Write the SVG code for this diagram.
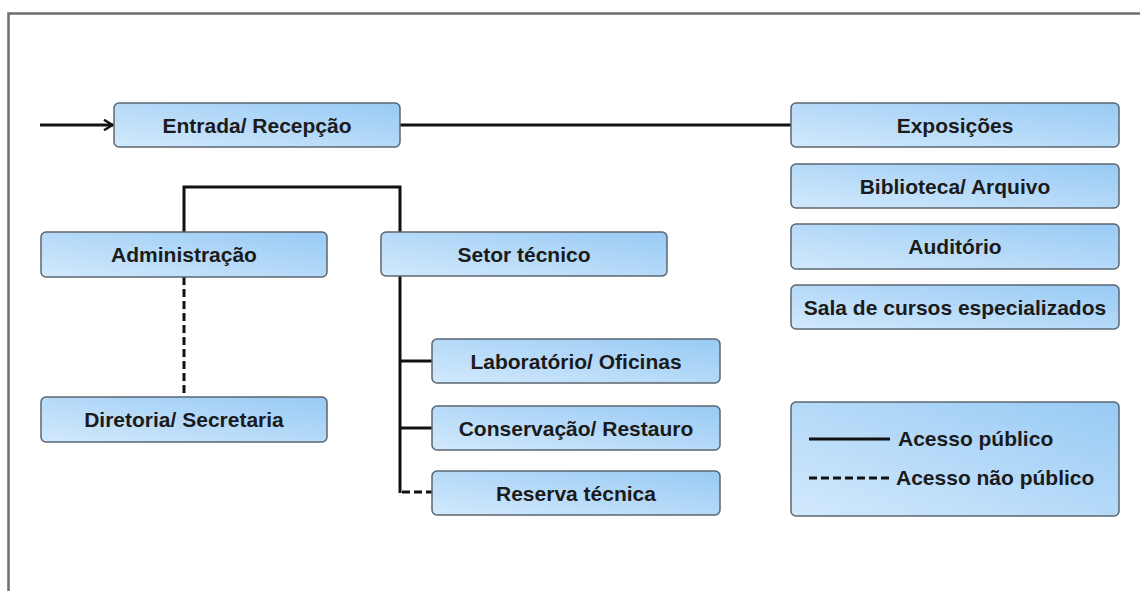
<svg xmlns="http://www.w3.org/2000/svg" width="1140" height="591" viewBox="0 0 1140 591">
  <defs>
    <linearGradient id="g" x1="0" y1="1" x2="1" y2="0">
      <stop offset="0" stop-color="#d2e9fc"/>
      <stop offset="1" stop-color="#98caf4"/>
    </linearGradient>
    <marker id="arr" viewBox="0 0 12 12" refX="11" refY="6" markerWidth="12" markerHeight="12" markerUnits="userSpaceOnUse" orient="auto">
      <path d="M2,0.8 L10.5,6 L2,11.2" fill="none" stroke="#111" stroke-width="2.4"/>
    </marker>
  </defs>
  <style>
    .box { fill: url(#g); stroke: #5b6570; stroke-width: 1.5; }
    .lbl { font-family: "Liberation Sans", Arial, sans-serif; font-weight: bold; font-size: 21px; fill: #1b1b1b; text-anchor: middle; }
    .leg { font-family: "Liberation Sans", Arial, sans-serif; font-weight: bold; font-size: 21px; fill: #1b1b1b; }
    .solid { fill: none; stroke: #111; stroke-width: 3; }
    .dash { fill: none; stroke: #111; stroke-width: 3; stroke-dasharray: 8 4; }
  </style>
  <rect width="1140" height="591" fill="#ffffff"/>
  <rect x="8.5" y="13.5" width="1200" height="650" fill="none" stroke="#6e6e6e" stroke-width="2.5"/>

  <g id="connectors">
    <line x1="40" y1="125" x2="113" y2="125" class="solid" marker-end="url(#arr)"/>
    <line x1="400" y1="125" x2="791" y2="125" class="solid"/>
    <polyline points="184,232 184,187 400,187 400,232" class="solid"/>
    <line x1="184" y1="277" x2="184" y2="397" class="dash"/>
    <polyline points="400,276 400,493" class="solid"/>
    <line x1="400" y1="361" x2="432" y2="361" class="solid"/>
    <line x1="400" y1="428" x2="432" y2="428" class="solid"/>
    <line x1="400" y1="492" x2="432" y2="492" class="dash" stroke-dashoffset="-2"/>
  </g>

  <g id="entrada">
    <rect x="114" y="103" width="286" height="44" rx="5" class="box"/>
    <text x="257" y="132.5" class="lbl">Entrada/ Recepção</text>
  </g>
  <g id="exposicoes">
    <rect x="791" y="103" width="328" height="44" rx="5" class="box"/>
    <text x="955" y="132.5" class="lbl">Exposições</text>
  </g>
  <g id="biblioteca">
    <rect x="791" y="164" width="328" height="44" rx="5" class="box"/>
    <text x="955" y="193.5" class="lbl">Biblioteca/ Arquivo</text>
  </g>
  <g id="auditorio">
    <rect x="791" y="224" width="328" height="45" rx="5" class="box"/>
    <text x="955" y="254" class="lbl">Auditório</text>
  </g>
  <g id="sala">
    <rect x="791" y="285" width="328" height="44" rx="5" class="box"/>
    <text x="955" y="314.5" class="lbl">Sala de cursos especializados</text>
  </g>
  <g id="administracao">
    <rect x="41" y="232" width="286" height="45" rx="5" class="box"/>
    <text x="184" y="262" class="lbl">Administração</text>
  </g>
  <g id="diretoria">
    <rect x="41" y="397" width="286" height="45" rx="5" class="box"/>
    <text x="184" y="427" class="lbl">Diretoria/ Secretaria</text>
  </g>
  <g id="setor">
    <rect x="381" y="232" width="286" height="44" rx="5" class="box"/>
    <text x="524" y="261.5" class="lbl">Setor técnico</text>
  </g>
  <g id="laboratorio">
    <rect x="432" y="339" width="288" height="44" rx="5" class="box"/>
    <text x="576" y="368.5" class="lbl">Laboratório/ Oficinas</text>
  </g>
  <g id="conservacao">
    <rect x="432" y="406" width="288" height="44" rx="5" class="box"/>
    <text x="576" y="435.5" class="lbl">Conservação/ Restauro</text>
  </g>
  <g id="reserva">
    <rect x="432" y="471" width="288" height="44" rx="5" class="box"/>
    <text x="576" y="500.5" class="lbl">Reserva técnica</text>
  </g>
  <g id="legenda">
    <rect x="791" y="402" width="328" height="114" rx="5" class="box"/>
    <line x1="809" y1="439" x2="890" y2="439" class="solid" stroke-width="3.5"/>
    <text x="898" y="446" class="leg">Acesso público</text>
    <line x1="809" y1="478" x2="893" y2="478" class="dash" stroke-width="3.5" stroke-dasharray="9 3"/>
    <text x="896" y="485" class="leg">Acesso não público</text>
  </g>
</svg>
